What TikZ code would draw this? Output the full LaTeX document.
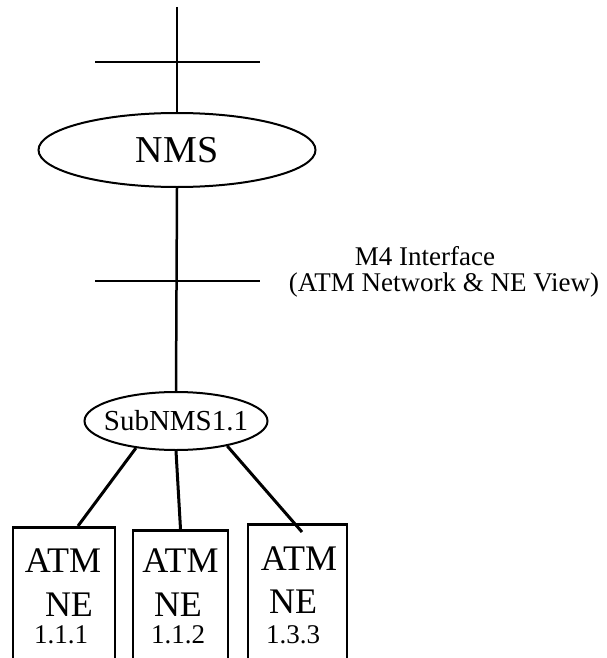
\documentclass[tikz,border=0pt]{standalone}
\usepackage{fontspec}
\setmainfont{Liberation Serif}
\usetikzlibrary{shapes.geometric}

\begin{document}
\begin{tikzpicture}[x=1pt,y=-1pt,
  line/.style={line width=2.5pt},
  branch/.style={line width=3pt},
  manager/.style={draw,ellipse,line width=2pt,inner sep=0pt},
  nebox/.style={draw,rectangle,line width=2.5pt,minimum height=200pt,anchor=north,inner sep=0pt},
  boxtext/.style={anchor=base,inner sep=0pt,font=\fontsize{36}{42}\selectfont},
  idtext/.style={anchor=base,inner sep=0pt,font=\fontsize{27}{32}\selectfont},
  note/.style={anchor=base,inner sep=0pt,font=\fontsize{27}{31}\selectfont}]
  \useasboundingbox (0,0) rectangle (606,658);
  \clip (0,0) rectangle (606,658);

  % managers
  \coordinate (top) at (177,7);
  \node [manager,minimum width=277pt,minimum height=74pt,font=\fontsize{38}{45}\selectfont] (nms) at (177,150) {NMS};
  \node [manager,minimum width=183pt,minimum height=58pt,inner xsep=-30pt,font=\fontsize{29}{34}\selectfont] (subnms) at (176,421) {SubNMS1.1};

  % network elements
  \node [nebox,minimum width=102pt] (ne111) at (64,526) {};
  \node [nebox,minimum width=95pt] (ne112) at (180.5,529) {};
  \node [nebox,minimum width=99pt] (ne133) at (297.5,523) {};

  \node [boxtext] (atm1) at (63,572) {ATM};
  \node [boxtext] (ne1) at (69,616) {NE};
  \node [idtext] (id1) at (61,643) {1.1.1};
  \node [boxtext] (atm2) at (180.5,572) {ATM};
  \node [boxtext] (ne2) at (178,616) {NE};
  \node [idtext] (id2) at (178,643) {1.1.2};
  \node [boxtext] (atm3) at (299,570) {ATM};
  \node [boxtext] (ne3) at (293,613) {NE};
  \node [idtext] (id3) at (293,643) {1.3.3};

  % interface bars
  \draw [line] (95,62) -- (260,62);
  \draw [line] (95,281) -- (260,281);
  \node [note] (m4) at (425,265) {M4 Interface};
  \node [note] (view) at (444,291) {(ATM Network \& NE View)};

  % connections
  \draw [line] (top) -- (nms);
  \draw [line] (nms.south) -- (subnms.north);
  \draw [branch] (subnms.214) -- ([xshift=14pt]ne111.north);
  \draw [branch] (subnms.south) -- (ne112.north);
  \draw [branch] (subnms.-26) -- ([xshift=4.5pt,yshift=-9pt]ne133.north);
\end{tikzpicture}
\end{document}
